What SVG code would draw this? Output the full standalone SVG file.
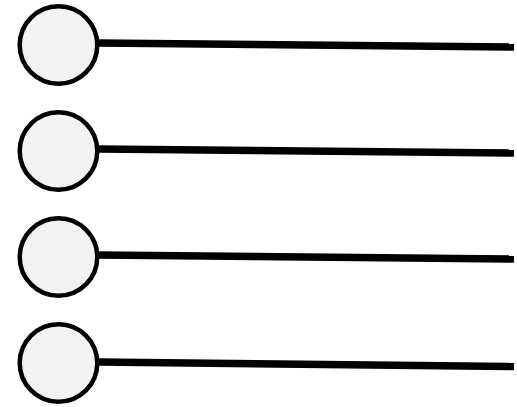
<svg xmlns="http://www.w3.org/2000/svg" width="517" height="407" viewBox="0 0 517 407">
<style>
.n{fill:#f2f2f2;stroke:#000;stroke-width:4.5}
.c{stroke:#000;stroke-width:7.5;fill:none;stroke-linecap:butt}
</style>
<rect width="517" height="407" fill="#fff"/>
<g id="connectors">
<line class="c" x1="98" y1="43" x2="514" y2="47"/>
<line class="c" x1="98" y1="149" x2="514" y2="153"/>
<line class="c" x1="98" y1="255" x2="514" y2="259"/>
<line class="c" x1="98" y1="362" x2="514" y2="366.5"/>
</g>
<g id="node1"><circle class="n" cx="58.5" cy="45" r="38.8"/></g>
<g id="node2"><circle class="n" cx="58.5" cy="151" r="38.8"/></g>
<g id="node3"><circle class="n" cx="58.5" cy="257" r="38.8"/></g>
<g id="node4"><circle class="n" cx="58.5" cy="363" r="38.8"/></g>
</svg>
